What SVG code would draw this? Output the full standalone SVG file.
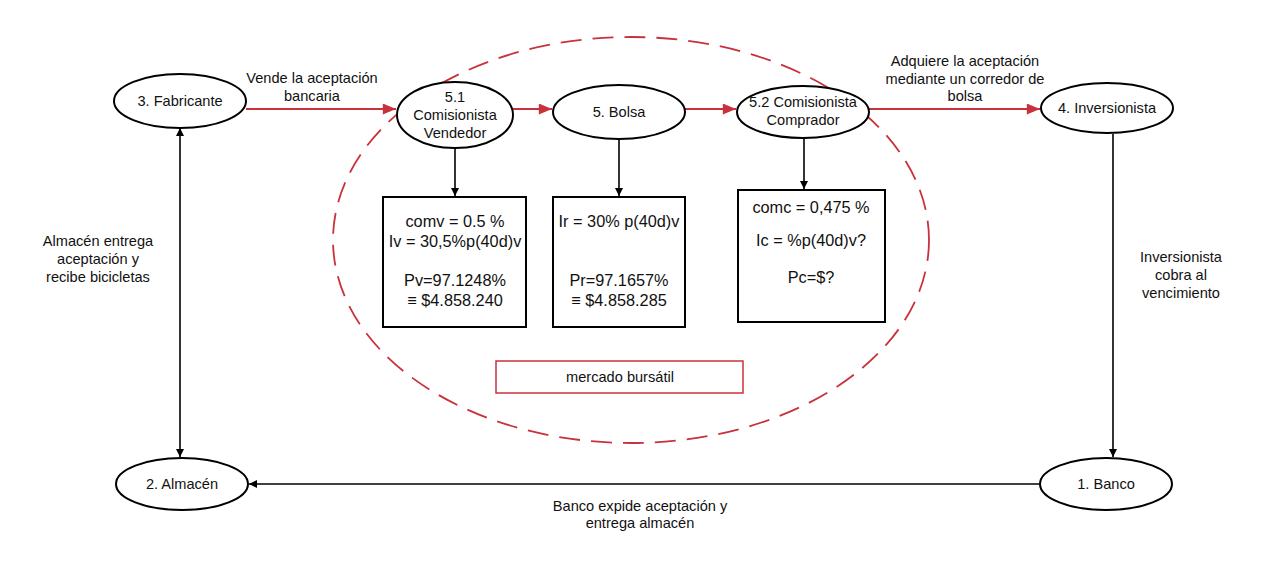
<svg xmlns="http://www.w3.org/2000/svg" width="1280" height="574" viewBox="0 0 1280 574">
<defs>
<style>
text{font-family:"Liberation Sans",Arial,sans-serif;fill:#111;text-anchor:middle}
.n{font-size:14.6px}
.b{font-size:16.3px}
.l{font-size:14.6px}
.node{fill:#fff;stroke:#000;stroke-width:2}
.box{fill:#fff;stroke:#000;stroke-width:2}
.k{stroke:#000;stroke-width:1.6;fill:none}
.r{stroke:#c8323c;stroke-width:2;fill:none}
</style>
<marker id="ak" viewBox="0 0 10 10" refX="10" refY="5" markerWidth="8" markerHeight="8" markerUnits="userSpaceOnUse" orient="auto-start-reverse"><path d="M0,0 L10,5 L0,10 z" fill="#000"/></marker>
<marker id="ar" viewBox="0 0 12 10" refX="12" refY="5" markerWidth="14" markerHeight="11" markerUnits="userSpaceOnUse" orient="auto"><path d="M0,0 L12,5 L0,10 z" fill="#c8323c"/></marker>
</defs>
<rect width="1280" height="574" fill="#fff"/>
<ellipse id="mercado-ellipse" cx="631" cy="240" rx="298" ry="203" fill="none" stroke="#c8323c" stroke-width="1.8" stroke-dasharray="21 11"/>
<g id="connectors">
<line class="r" x1="246" y1="109" x2="396" y2="109" marker-end="url(#ar)"/>
<line class="r" x1="513" y1="109" x2="552" y2="109" marker-end="url(#ar)"/>
<line class="r" x1="685" y1="109" x2="736" y2="109" marker-end="url(#ar)"/>
<line class="r" x1="869" y1="109" x2="1040" y2="109" marker-end="url(#ar)"/>
<line class="k" x1="455" y1="148" x2="455" y2="196" marker-end="url(#ak)"/>
<line class="k" x1="619" y1="139" x2="619" y2="196" marker-end="url(#ak)"/>
<line class="k" x1="804" y1="138" x2="804" y2="189" marker-end="url(#ak)"/>
<line class="k" x1="180" y1="128" x2="180" y2="457" marker-start="url(#ak)" marker-end="url(#ak)"/>
<line class="k" x1="1113" y1="134" x2="1113" y2="457" marker-end="url(#ak)"/>
<line class="k" x1="1040" y1="484" x2="249" y2="484" marker-end="url(#ak)"/>
</g>
<g id="fabricante"><ellipse class="node" cx="180" cy="101" rx="66" ry="27"/><text class="n" x="180" y="106">3. Fabricante</text></g>
<g id="comisionista-vendedor"><ellipse class="node" cx="455" cy="115" rx="58" ry="33"/><text class="n" x="455" y="102">5.1</text><text class="n" x="455" y="120">Comisionista</text><text class="n" x="455" y="138">Vendedor</text></g>
<g id="bolsa"><ellipse class="node" cx="619" cy="112" rx="66" ry="27"/><text class="n" x="619" y="117">5. Bolsa</text></g>
<g id="comisionista-comprador"><ellipse class="node" cx="803" cy="112" rx="66" ry="26"/><text class="n" x="803" y="107">5.2 Comisionista</text><text class="n" x="803" y="125">Comprador</text></g>
<g id="inversionista"><ellipse class="node" cx="1107" cy="108" rx="66" ry="25"/><text class="n" x="1107" y="113">4. Inversionista</text></g>
<g id="banco"><ellipse class="node" cx="1106" cy="484" rx="66" ry="26"/><text class="n" x="1106" y="489">1. Banco</text></g>
<g id="almacen"><ellipse class="node" cx="182" cy="484" rx="66" ry="26"/><text class="n" x="182" y="489">2. Almacén</text></g>
<g id="box-vendedor"><rect class="box" x="383" y="197" width="143" height="130"/><text class="b" x="455" y="227">comv = 0.5 %</text><text class="b" x="455" y="247">Iv = 30,5%p(40d)v</text><text class="b" x="455" y="286">Pv=97.1248%</text><text class="b" x="455" y="306">≡ $4.858.240</text></g>
<g id="box-bolsa"><rect class="box" x="553" y="197" width="132" height="130"/><text class="b" x="619" y="227">Ir = 30% p(40d)v</text><text class="b" x="619" y="286">Pr=97.1657%</text><text class="b" x="619" y="306">≡ $4.858.285</text></g>
<g id="box-comprador"><rect class="box" x="738" y="190" width="147" height="132"/><text class="b" x="811" y="213">comc = 0,475 %</text><text class="b" x="811" y="246">Ic = %p(40d)v?</text><text class="b" x="811" y="283">Pc=$?</text></g>
<g id="mercado-bursatil"><rect x="496" y="361" width="247" height="32" fill="#fff" stroke="#c8323c" stroke-width="1.5"/><text class="l" x="620" y="382">mercado bursátil</text></g>
<g id="labels">
<text class="l" x="312" y="83">Vende la aceptación</text><text class="l" x="312" y="101">bancaria</text>
<text class="l" x="965" y="66">Adquiere la aceptación</text><text class="l" x="965" y="84">mediante un corredor de</text><text class="l" x="965" y="101">bolsa</text>
<text class="l" x="98" y="246">Almacén entrega</text><text class="l" x="98" y="264">aceptación y</text><text class="l" x="98" y="282">recibe bicicletas</text>
<text class="l" x="1181" y="262">Inversionista</text><text class="l" x="1181" y="280">cobra al</text><text class="l" x="1181" y="298">vencimiento</text>
<text class="l" x="640" y="511">Banco expide aceptación y</text><text class="l" x="640" y="528">entrega almacén</text>
</g>
</svg>
